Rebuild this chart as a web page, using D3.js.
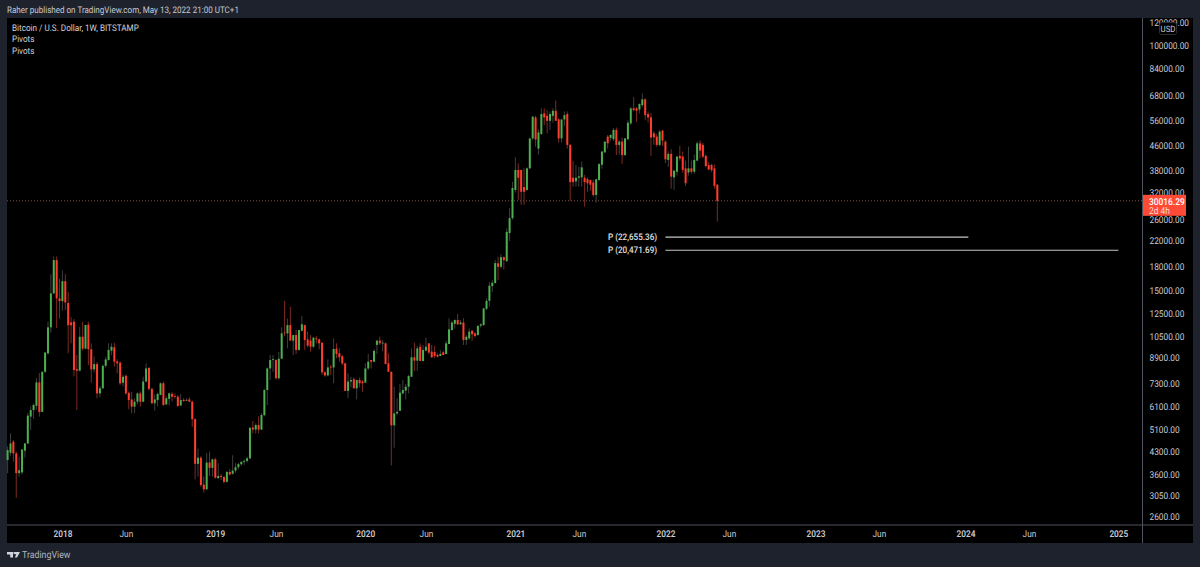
<!DOCTYPE html>
<html><head><meta charset="utf-8">
<script src="https://cdnjs.cloudflare.com/ajax/libs/d3/7.8.5/d3.min.js"></script>
<style>
html,body{margin:0;padding:0;background:#1e222d;overflow:hidden}
svg{display:block}
text{font-family:"Roboto",sans-serif;text-rendering:geometricPrecision}
</style></head><body>
<svg id="c" width="1200" height="567"></svg>
<script>
const firstWeek = new Date(2017, 7, 21);
const opens = [4030,4260,4640,4240,3640,3660,4330,4580,5640,5930,
6130,7350,5850,7980,9210,11260,14650,18960,14100,13800,
16100,13600,11700,11760,8150,8050,10470,9550,11500,9500,
8130,8470,6750,7020,8360,8740,9400,9650,8650,8560,
7330,7740,6780,6440,6090,6330,6750,6330,7400,8230,
6990,6250,6410,6670,7300,6200,6470,6720,6610,6580,
6150,6420,6380,6440,6330,5530,3910,4100,3330,3210,
3950,3790,4050,3500,3560,3530,3400,3670,3620,3710,
3810,3900,3970,4000,4080,5180,5100,5280,5100,5700,
6930,8190,8740,8740,7590,8830,10820,10750,11460,10160,
10610,9450,10970,11460,10260,10160,9690,10340,10260,10000,
7950,7760,8300,8250,9550,9210,9000,8520,6880,7400,
7530,7020,7490,7400,7340,8190,8740,8630,9830,10160,
9950,9950,8520,7980,5270,5780,5900,6750,6900,7110,
7680,8930,8700,9690,8680,9400,9950,9330,9300,9090,
9020,9280,9160,9900,11030,11570,11920,11530,11690,10210,
10340,10970,10750,10610,11400,11460,13000,13830,15500,15870,
18500,18000,19400,18800,23400,26250,32660,38130,38130,33400,
32660,38600,48700,57300,45000,50400,59130,58000,55800,58000,
60300,56400,48700,56400,58800,46300,35900,34900,35900,36000,
35900,35500,35300,34600,31400,35300,39700,43700,49360,48900,
48400,52000,46300,47500,42800,48400,54700,61450,61450,60900,
63000,65900,58800,57300,50650,49360,46300,51700,47500,41200,
43200,36000,37600,42500,42280,38600,37400,38600,37600,41000,
46870,46300,42500,39600,39600,38600,34000];
const highs = [4470,4950,4700,4300,4130,4370,4600,5800,6100,6250,
7600,7900,8000,9270,11760,17000,19500,19500,16400,17500,
17000,14800,12200,12000,9090,11300,11760,11470,11760,9950,
9000,8600,7150,8430,8970,9950,9950,10000,8800,8650,
7800,7800,6850,6830,6500,6800,6860,7680,8520,8250,
7050,6700,6790,7350,7400,6600,6790,6820,6750,6660,
6720,6500,6500,6550,6380,5560,4400,4150,3540,4250,
4300,4070,4100,3930,3620,3560,3700,3750,4180,3940,
3950,4000,4050,4130,5200,5450,5350,5640,5800,7000,
8250,9090,9090,8800,9300,11260,13830,12050,13210,10610,
11030,11030,12300,11500,10900,10610,10470,10520,10340,10000,
8000,8780,8420,10340,9950,9570,9100,8560,7880,7680,
7640,7490,7640,7490,8520,9160,8740,9500,10160,10470,
10210,10000,9210,8000,7110,6500,7260,7490,7260,7800,
9570,10000,9750,9950,9820,10400,9950,9820,9760,9210,
9450,9400,10160,12070,11850,11990,12490,11920,12070,10610,
11180,11000,10840,11400,11610,13100,14090,16000,16240,19000,
19450,19860,19500,24250,28340,34800,42060,40150,38130,38600,
38900,48700,58000,58000,52300,61450,61500,60670,60000,61450,
65200,57000,56400,60000,60000,46700,40900,39600,39100,40700,
36700,36000,35300,35300,35500,40200,44000,47500,50000,50300,
52800,53000,48000,49000,48700,56000,62000,67000,62000,63800,
69000,66500,60000,59300,51500,50500,52000,52000,48000,44100,
44800,38200,42500,45900,44000,41000,45700,41000,43000,47600,
48000,47000,43000,40500,40000,39800,34200];
const lows = [3640,4160,3980,3000,3540,3600,4100,4560,5080,5540,
5950,5640,5850,7900,9100,10800,14600,11200,12050,12800,
12880,9210,9950,7700,5930,8000,9400,9500,8400,7330,
7950,6500,6550,7000,8250,8700,9100,8300,7880,7200,
7130,6680,5970,5780,5800,6200,6090,6300,7350,6900,
6230,5910,6100,6650,6130,6170,6150,6350,6500,6090,
6120,6330,6350,6300,5210,3470,3540,3270,3130,3200,
3560,3540,3490,3480,3450,3360,3380,3580,3600,3650,
3750,3850,3880,3950,4050,4950,4950,4950,5080,5650,
6170,7490,7980,7520,7500,8800,10500,9570,10160,9090,
9160,9400,10900,9450,9650,9330,9600,9950,9500,7800,
7680,7700,7780,7300,8860,8630,8400,6880,6500,7070,
7020,6440,7070,6840,7300,8090,8190,8600,9160,9820,
9350,8470,7980,3860,4430,5700,5880,6700,6440,6750,
7680,8040,8040,8680,8630,9350,9160,8880,8880,8930,
9020,9090,9160,9900,10970,11150,11460,11500,9830,9830,
10210,10160,10400,10550,11240,11400,12870,13210,14800,15800,
16240,17800,17640,18700,21990,25900,32000,30230,29100,29100,
32400,38500,48000,45680,42950,50000,54000,50650,52000,55000,
55800,47100,47100,53500,45000,30000,33500,33500,33500,33500,
28700,32200,32500,31000,29600,35000,38500,43500,45000,47800,
47700,42800,43000,39900,42500,48000,54000,60000,55400,59000,
62000,56000,55000,42500,46300,45700,45800,46000,40200,39000,
33000,32700,36500,41000,37300,33700,36500,37000,37000,40800,
41700,41700,38900,38000,37500,33000,25560];
const closes = [4350,4580,4240,3640,3720,4370,4580,5680,5930,6170,
7350,5850,7980,9270,11260,14650,18960,14100,13800,16100,
13650,11450,11450,8090,8050,10470,9550,11470,9500,8130,
8470,6750,7020,8360,8780,9450,9690,8630,8520,7300,
7680,6750,6410,6090,6330,6750,6330,7400,8190,6990,
6250,6440,6720,7300,6170,6500,6750,6580,6580,6120,
6410,6360,6420,6330,5530,3910,4100,3320,3210,3950,
3790,4050,3510,3560,3530,3400,3670,3600,3710,3810,
3900,3970,4000,4080,5170,5100,5280,5100,5710,6930,
8190,8740,8800,7590,8830,10750,10750,11460,10160,10610,
9450,11030,11530,10210,9780,9690,10400,10260,9950,7950,
7760,8250,8250,9520,9160,8930,8520,6880,7400,7490,
7020,7490,7300,7300,8190,8630,8630,9380,10160,9950,
10000,8470,7980,5270,5780,5850,6790,6930,7110,7720,
8930,8700,9570,8680,9450,9690,9260,8930,9020,8970,
9160,9090,9950,11090,11690,11920,11530,11690,10210,10470,
10890,10670,10540,11400,11530,13040,13830,15550,15900,18530,
18000,19400,18960,23600,26250,33150,38130,35900,32200,32200,
38600,48700,57620,48300,51000,58800,57300,55800,58800,60300,
55800,48700,56400,58300,46300,34700,34700,35900,36300,38900,
34700,34400,34000,31400,35500,39900,44000,47500,46870,50000,
52000,46300,47500,42800,48700,55000,61450,60670,60300,63600,
65900,58300,57300,49000,49100,46300,51300,47900,41400,43200,
36200,37900,42280,41700,38130,34400,38600,37600,41200,46870,
44300,42280,39300,38300,38130,33700,30016.29];

const priceTicks = [120000,100000,84000,68000,56000,46000,38000,32000,26000,22000,18000,15000,12500,10500,8900,7300,6100,5100,4300,3600,3050,2600];
const timeTicks = [[2018,0,1,"2018"],[2018,5,4,"Jun"],[2019,0,7,"2019"],[2019,5,3,"Jun"],[2020,0,6,"2020"],[2020,5,1,"Jun"],[2021,0,4,"2021"],[2021,5,7,"Jun"],[2022,0,3,"2022"],[2022,5,6,"Jun"],[2023,0,2,"2023"],[2023,5,5,"Jun"],[2024,0,1,"2024"],[2024,5,3,"Jun"],[2025,0,6,"2025"]];
const pivotLevels = [22655.36, 20471.69];
const pivotLabels = ["P (22,655.36)", "P (20,471.69)"];
const pivotEnds = [new Date(2024,0,8), new Date(2025,0,6)];
const pivotStart = new Date(2022,0,3);
const lastPrice = 30016.29;

const svg = d3.select("#c");
const x = d3.scaleTime().domain([firstWeek, new Date(2025,0,1)]).range([7.6,1116.3]);
const y = d3.scaleLog().domain([120000,2600]).range([22,516.5]);
const dates = opens.map((_,i)=>d3.timeWeek.offset(firstWeek,i));

// panel
svg.append("rect").attr("x",7).attr("y",18).attr("width",1186).attr("height",525).attr("fill","#000");
svg.append("line").attr("x1",1142.5).attr("x2",1142.5).attr("y1",18).attr("y2",543).attr("stroke","#50535e");
svg.append("line").attr("x1",7).attr("x2",1193).attr("y1",525).attr("y2",525).attr("stroke","#50535e");

// last price line
svg.append("line").attr("x1",7).attr("x2",1142).attr("y1",y(lastPrice)).attr("y2",y(lastPrice))
  .attr("stroke","#a5685c").attr("stroke-width",0.8).attr("stroke-dasharray","1 2");

// candles
const up = i=>closes[i]>=opens[i];
const g = svg.append("g");
g.selectAll("line.w").data(dates).join("line").attr("class","w")
  .attr("x1",d=>x(d)).attr("x2",d=>x(d))
  .attr("y1",(d,i)=>y(highs[i])).attr("y2",(d,i)=>y(lows[i]))
  .attr("stroke",(d,i)=>up(i)?"#3d3f3e":"#7c2a22").attr("stroke-width",1);
g.selectAll("rect.b").data(dates).join("rect").attr("class","b")
  .attr("x",d=>x(d)-1).attr("width",2)
  .attr("y",(d,i)=>y(Math.max(opens[i],closes[i])))
  .attr("height",(d,i)=>Math.max(0.8,y(Math.min(opens[i],closes[i]))-y(Math.max(opens[i],closes[i]))))
  .attr("fill",(d,i)=>up(i)?"#4caf50":"#ff3d2e");

// pivots
const pg = svg.append("g");
pivotLevels.forEach((p,i)=>{
  pg.append("line").attr("x1",x(pivotStart)).attr("x2",x(pivotEnds[i]))
    .attr("y1",y(p)).attr("y2",y(p)).attr("stroke","#c4c4c4").attr("stroke-width",1.1);
  pg.append("text").attr("x",608).attr("y",y(p)).attr("dy","0.35em")
    .attr("font-size",8.1).attr("font-weight",500).attr("fill","#e0e0e0").text(pivotLabels[i]);
});

// axes
const yAxis = d3.axisRight(y).tickValues(priceTicks).tickSize(0).tickPadding(0).tickFormat(d=>d3.format(".2f")(d));
const ya = svg.append("g").attr("transform","translate(1149.5,0)").call(yAxis);
ya.select(".domain").remove();
ya.selectAll("text").attr("font-size",8.3).attr("fill","#c8cad0");
const xAxis = d3.axisBottom(x).tickValues(timeTicks.map(t=>new Date(t[0],t[1],t[2]))).tickSize(0).tickPadding(0)
  .tickFormat((d,i)=>timeTicks[i][3]);
const xa = svg.append("g").attr("transform","translate(0,530)").call(xAxis);
xa.select(".domain").remove();
xa.selectAll("text").attr("font-size",8.3).attr("fill","#c8cad0")
  .attr("font-weight",(d,i)=>timeTicks[i][1]===0?"600":"400");

// USD badge
svg.append("rect").attr("x",1159.5).attr("y",22.5).attr("width",17).attr("height",12).attr("rx",2)
  .attr("fill","#000").attr("stroke","#2a2e39");
svg.append("text").attr("x",1168).attr("y",28.5).attr("dy","0.35em").attr("text-anchor","middle")
  .attr("font-size",7.8).attr("fill","#c8cad0").text("USD");

// price badge
svg.append("rect").attr("x",1143).attr("y",y(lastPrice)-6).attr("width",43).attr("height",21).attr("fill","#ff4a35");
svg.append("text").attr("x",1149).attr("y",y(lastPrice)+0.5).attr("dy","0.35em").attr("font-size",8.4).attr("font-weight",500)
  .attr("fill","#fff").text("30016.29");
svg.append("text").attr("x",1149).attr("y",y(lastPrice)+10).attr("dy","0.35em").attr("font-size",8.4)
  .attr("fill","#ffd9d4").text("2d 4h");

// header texts
svg.append("text").attr("x",7).attr("y",10).attr("dy","0.35em").attr("font-size",8.05).attr("fill","#c8cad0")
  .text("Raher published on TradingView.com, May 13, 2022 21:00 UTC+1");
["Bitcoin / U.S. Dollar, 1W, BITSTAMP","Pivots","Pivots"].forEach((t,i)=>{
  svg.append("text").attr("x",12).attr("y",28+i*11.2).attr("dy","0.35em").attr("font-size",8.15)
    .attr("fill","#d1d4dc").text(t);
});

// footer mark
svg.append("path").attr("d","M7 552h6v5.5h-2.8v-3H7zM14.5 552h5.5l-3 5.5h-2.2l1.5-3.2h-1.8z").attr("fill","#d1d4dc");
svg.append("circle").attr("cx",14.2).attr("cy",553).attr("r",0.9).attr("fill","#d1d4dc");
svg.append("text").attr("x",22).attr("y",555).attr("dy","0.35em").attr("font-size",8.8).attr("fill","#b2b5be").text("TradingView");

// the reference's face is taller and narrower than Roboto: enlarge, keep each width
const tall = 1.13;
svg.selectAll("text").each(function(){
  const t = d3.select(this);
  const w = this.getComputedTextLength();
  t.attr("font-size", +t.attr("font-size")*tall)
   .attr("textLength", w).attr("lengthAdjust","spacingAndGlyphs");
});
</script>
</body></html>
